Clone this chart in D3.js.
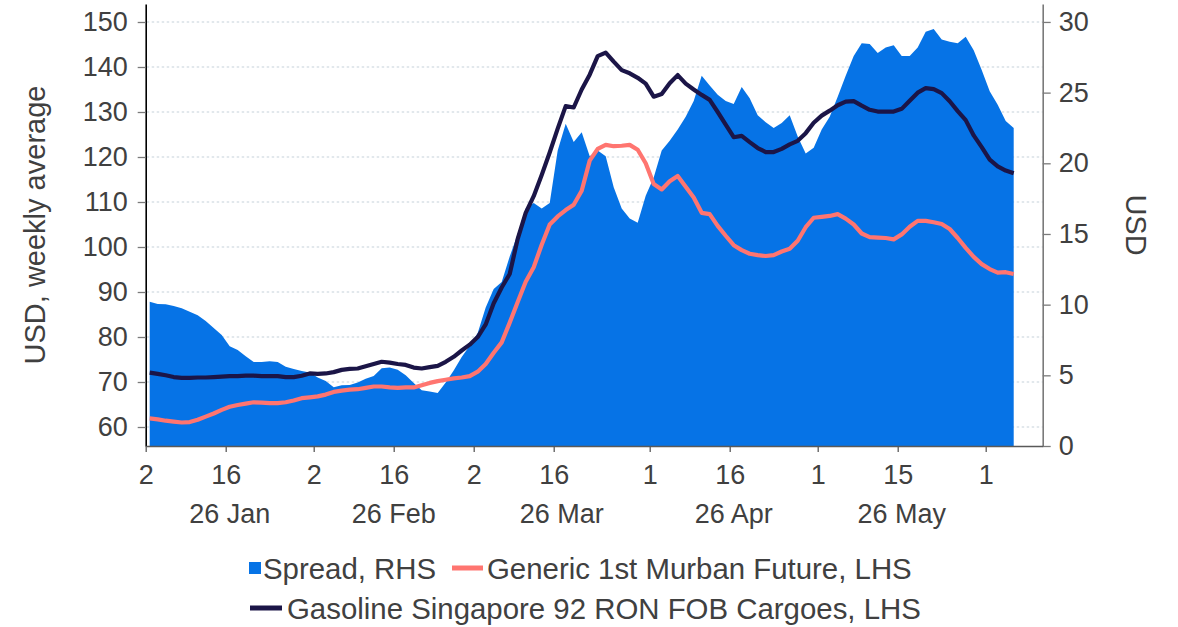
<!DOCTYPE html>
<html>
<head>
<meta charset="utf-8">
<script src="https://cdn.jsdelivr.net/npm/d3@7"></script>
<style>
  html, body { margin: 0; padding: 0; background: #ffffff; }
  svg { display: block; font-family: "Liberation Sans", Arial, sans-serif; }
</style>
</head>
<body>
<svg id="chart" width="1178" height="627"></svg>
<script>
// ---------------- DATA ----------------
const startDate = "2026-01-02";
const endDate = "2026-06-04";
const holidays = ["2026-04-03"];

const tickDates = ["2026-01-02","2026-01-16","2026-02-02","2026-02-16","2026-03-02","2026-03-16",
                   "2026-04-01","2026-04-16","2026-05-01","2026-05-15","2026-06-01"];
const monthLabels = ["26 Jan","26 Feb","26 Mar","26 Apr","26 May"];
const monthStarts = ["2026-01-02","2026-02-02","2026-03-02","2026-04-01","2026-05-01","2026-06-01"];

const leftTicks = [60,70,80,90,100,110,120,130,140,150];
const rightTicks = [0,5,10,15,20,25,30];

const spread = [
 10.2,10.05,10.02,9.9,9.75,9.5,9.25,8.85,8.35,7.85,
 7.05,6.8,6.35,5.95,5.95,6.0,5.95,5.6,5.45,5.3,
 5.2,4.85,4.6,4.15,4.3,4.32,4.5,4.75,4.95,5.5,
 5.55,5.4,5.0,4.45,3.95,3.85,3.75,4.5,5.35,6.3,
 7.1,8.0,9.8,11.1,11.6,13.4,15.0,16.8,17.2,16.8,
 17.2,20.9,22.8,21.5,22.2,20.5,20.9,20.5,18.3,16.8,
 16.1,15.8,17.7,19.0,20.9,21.6,22.4,23.3,24.4,26.2,
 25.5,24.85,24.4,24.2,25.4,24.6,23.4,22.9,22.5,22.85,
 23.4,21.9,20.7,21.1,22.4,23.3,24.7,26.2,27.6,28.5,
 28.44,27.8,28.2,28.35,27.6,27.6,28.2,29.3,29.5,28.75,
 28.6,28.5,28.95,28.0,26.6,25.1,24.15,23.0,22.5
];

const gasoline = [
 72.1,71.8,71.5,71.1,70.9,70.9,71.0,71.0,71.1,71.2,
 71.3,71.3,71.4,71.4,71.3,71.3,71.3,71.1,71.1,71.4,
 71.9,71.8,71.9,72.2,72.7,72.9,73.0,73.5,74.0,74.5,
 74.3,74.0,73.8,73.2,73.0,73.3,73.6,74.5,75.6,77.0,
 78.3,80.0,82.8,87.5,91.0,94.0,101.8,107.6,111.3,116.0,
 121.0,126.3,131.3,131.0,135.0,138.3,142.4,143.2,141.2,139.3,
 138.6,137.6,136.3,133.4,134.0,136.4,138.2,136.3,135.0,133.8,
 132.7,130.0,127.2,124.4,124.7,123.3,122.0,121.1,121.1,121.8,
 122.8,123.6,125.3,127.6,129.2,130.3,131.5,132.3,132.4,131.4,
 130.5,130.1,130.1,130.1,130.7,132.5,134.3,135.3,135.1,134.2,
 132.4,130.2,128.2,124.8,122.2,119.4,117.9,117.0,116.4
];

const murban = [
 61.9,61.7,61.4,61.2,61.0,61.1,61.6,62.3,63.0,63.8,
 64.5,64.9,65.2,65.5,65.4,65.3,65.3,65.5,65.9,66.4,
 66.6,66.8,67.2,67.8,68.1,68.3,68.4,68.7,69.0,69.0,
 68.8,68.7,68.8,68.8,69.3,69.8,70.2,70.5,70.8,71.0,
 71.3,72.3,74.0,76.5,78.8,83.2,87.8,92.3,95.5,100.5,
 105.0,106.8,108.2,109.4,112.5,119.2,121.8,122.7,122.4,122.5,
 122.7,121.6,118.6,114.0,112.8,114.6,115.8,113.4,111.0,107.6,
 107.3,104.7,102.5,100.4,99.3,98.5,98.2,98.0,98.2,99.0,
 99.6,101.4,104.4,106.5,106.7,106.9,107.3,106.3,105.0,103.0,
 102.2,102.1,102.0,101.7,102.8,104.5,105.8,105.8,105.5,105.1,
 104.0,102.0,99.8,97.8,96.2,95.1,94.3,94.4,94.0
];

const seriesNames = ["Spread, RHS", "Generic 1st Murban Future, LHS", "Gasoline Singapore 92 RON FOB Cargoes, LHS"];
const leftTitle = "USD, weekly average";
const rightTitle = "USD";

// ---------------- BUSINESS-DAY CALENDAR ----------------
const fmt = d3.utcFormat("%Y-%m-%d");
const parse = d3.utcParse("%Y-%m-%d");
const days = d3.utcDay.range(parse(startDate), d3.utcDay.offset(parse(endDate), 1))
  .filter(d => d.getUTCDay() !== 0 && d.getUTCDay() !== 6 && !holidays.includes(fmt(d)))
  .map(fmt);
const idx = s => days.indexOf(s);

// ---------------- LAYOUT ----------------
const colors = { spread: "#0673e6", murban: "#ff7570", gasoline: "#1b1547", text: "#404040" };
const plot = { left: 145.7, right: 1042.7, top: 4, bottom: 446 };

const svg = d3.select("#chart");

const x = d3.scaleLinear().domain([0, 112.125]).range([plot.left, plot.right]);
const yL = d3.scaleLinear().domain([55.78, 154]).range([plot.bottom, plot.top]);
const yR = d3.scaleLinear().domain([0, 31.27]).range([plot.bottom, plot.top]);

// grid
svg.append("g").selectAll("line").data(leftTicks).join("line")
  .attr("x1", plot.left + 1).attr("x2", plot.right)
  .attr("y1", d => yL(d)).attr("y2", d => yL(d))
  .attr("stroke", "#c5d1da").attr("stroke-width", 1.2).attr("stroke-dasharray", "2.5,2.5");

// spread area
const area = d3.area()
  .x((d, i) => x(i + 0.5))
  .y0(yR(0))
  .y1(d => yR(d));
svg.append("path").datum(spread).attr("d", area).attr("fill", colors.spread);

// lines
const lineL = d3.line().x((d, i) => x(i + 0.5)).y(d => yL(d));
svg.append("path").datum(murban).attr("d", lineL)
  .attr("fill", "none").attr("stroke", colors.murban).attr("stroke-width", 4.2)
  .attr("stroke-linejoin", "round").attr("stroke-linecap", "butt");
svg.append("path").datum(gasoline).attr("d", lineL)
  .attr("fill", "none").attr("stroke", colors.gasoline).attr("stroke-width", 4.2)
  .attr("stroke-linejoin", "round").attr("stroke-linecap", "butt");

// left axis
const gL = svg.append("g").attr("transform", `translate(${plot.left},0)`)
  .call(d3.axisLeft(yL).tickValues(leftTicks).tickSize(8).tickSizeOuter(0).tickPadding(10));
gL.select(".domain").attr("stroke", "#000").attr("stroke-width", 1.6);
gL.selectAll(".tick line").attr("stroke", "#7a7a7a").attr("stroke-width", 1.3);
gL.selectAll(".tick text").attr("fill", colors.text).attr("font-size", 27)
  .attr("font-family", "Liberation Sans, Arial, sans-serif");

// right axis
const gR = svg.append("g").attr("transform", `translate(${plot.right},0)`)
  .call(d3.axisRight(yR).tickValues(rightTicks).tickSize(8).tickSizeOuter(0).tickPadding(8));
gR.select(".domain").attr("stroke", "#7a7a7a").attr("stroke-width", 1.6);
gR.selectAll(".tick line").attr("stroke", "#7a7a7a").attr("stroke-width", 1.3);
gR.selectAll(".tick text").attr("fill", colors.text).attr("font-size", 27)
  .attr("font-family", "Liberation Sans, Arial, sans-serif");

// bottom axis
const gB = svg.append("g").attr("transform", `translate(0,${plot.bottom})`)
  .call(d3.axisBottom(x).tickValues(tickDates.map(idx)).tickSize(6).tickSizeOuter(0).tickPadding(13)
    .tickFormat(i => String(+days[i].slice(8, 10))));
gB.select(".domain").attr("stroke", "#595959").attr("stroke-width", 1.6);
gB.selectAll(".tick line").attr("stroke", "#595959").attr("stroke-width", 1.3);
gB.selectAll(".tick text").attr("fill", colors.text).attr("font-size", 27)
  .attr("font-family", "Liberation Sans, Arial, sans-serif");

// month labels
svg.append("g").selectAll("text").data(monthLabels).join("text")
  .attr("x", (d, i) => x((idx(monthStarts[i]) + idx(monthStarts[i + 1])) / 2))
  .attr("y", 523)
  .attr("text-anchor", "middle").attr("fill", colors.text).attr("font-size", 27)
  .text(d => d);

// axis titles
svg.append("text")
  .attr("transform", `translate(45,225) rotate(-90)`)
  .attr("text-anchor", "middle").attr("fill", colors.text).attr("font-size", 29)
  .text(leftTitle);
svg.append("text")
  .attr("transform", `translate(1126,225) rotate(90)`)
  .attr("text-anchor", "middle").attr("fill", colors.text).attr("font-size", 29)
  .text(rightTitle);

// legend
const lg = svg.append("g").attr("font-size", 29.4).attr("fill", colors.text);
lg.append("rect").attr("x", 249).attr("y", 562).attr("width", 12).attr("height", 12).attr("fill", colors.spread);
lg.append("text").attr("x", 263).attr("y", 579).text(seriesNames[0]);
lg.append("line").attr("x1", 452).attr("x2", 483).attr("y1", 568).attr("y2", 568)
  .attr("stroke", colors.murban).attr("stroke-width", 5);
lg.append("text").attr("x", 487).attr("y", 579).text(seriesNames[1]);
lg.append("line").attr("x1", 250).attr("x2", 282).attr("y1", 608).attr("y2", 608)
  .attr("stroke", colors.gasoline).attr("stroke-width", 5);
lg.append("text").attr("x", 287).attr("y", 619).text(seriesNames[2]);
</script>
</body>
</html>
